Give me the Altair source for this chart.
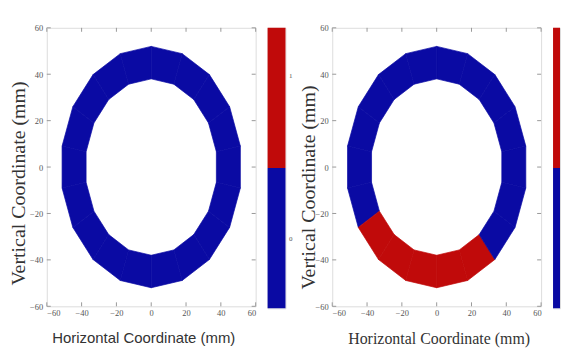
import math
import altair as alt
import pandas as pd

# ---- data -------------------------------------------------------------
seg_centers_deg = [0, 20, 40, 60, 80, 100, 120, 140, 160, 180,
                   200, 220, 240, 260, 280, 300, 320, 340]
seg_half_width_deg = 10
r_outer = 52
r_inner = 38
left_state = [0, 0, 0, 0, 0, 0, 0, 0, 0, 0, 0, 0, 0, 0, 0, 0, 0, 0]
right_state = [0, 0, 0, 0, 0, 0, 0, 0, 0, 0, 0, 1, 1, 1, 1, 1, 0, 0]
axis_ticks = [-60, -40, -20, 0, 20, 40, 60]
cbar_lo = [-0.5, 0.5]
cbar_hi = [0.5, 1.5]
cbar_state = [0, 1]
cbar_ticks = [0, 1]

BLUE = "#0a0aa3"
RED = "#c00a0a"
W, H = 210, 280
XT = "Horizontal Coordinate (mm)"
YT = "Vertical Coordinate (mm)"


def ring_table(state):
    rows = []
    for k, (c, s) in enumerate(zip(seg_centers_deg, state)):
        a0 = math.radians(c - seg_half_width_deg)
        a1 = math.radians(c + seg_half_width_deg)
        pts = [(r_outer, a0), (r_outer, a1), (r_inner, a1), (r_inner, a0), (r_outer, a0)]
        for j, (r, a) in enumerate(pts):
            rows.append({"seg": k, "ord": j, "x": r * math.cos(a),
                         "y": r * math.sin(a), "state": s})
    return pd.DataFrame(rows)


sx = alt.Scale(domain=[-60, 60], nice=False, zero=False)
sy = alt.Scale(domain=[-60, 60], nice=False, zero=False)
cscale = alt.Scale(domain=[0, 1], range=[BLUE, RED])


def panel(state, xtitle_font, xtitle_size, xtitle_x, ytitle_x, ytitle_y):
    df = ring_table(state)
    xax = alt.Axis(
        values=axis_ticks, domain=False, ticks=False,
        grid=False, labelFontSize=8.5, labelPadding=2, labelColor="#555",
        labelFont="Liberation Serif", titleFont=xtitle_font, titleFontSize=xtitle_size,
        titleFontWeight="normal", titleColor="#333", titleX=xtitle_x, titleY=24,
        titleBaseline="top")
    yax = alt.Axis(
        values=axis_ticks, domain=False, ticks=False,
        grid=False, labelFontSize=8.5, labelPadding=4, labelColor="#555",
        labelFont="Liberation Serif", titleFont="Liberation Serif", titleFontSize=20,
        titleFontWeight="normal", titleColor="#333", titleX=ytitle_x, titleY=ytitle_y,
        titleBaseline="bottom")
    ring = alt.Chart(df).mark_line(filled=True, strokeWidth=0.7, interpolate="linear").encode(
        x=alt.X("x:Q", scale=sx, axis=xax, title=XT),
        y=alt.Y("y:Q", scale=sy, axis=yax, title=YT),
        color=alt.Color("state:O", scale=cscale, legend=None),
        stroke=alt.Stroke("state:O", scale=cscale, legend=None),
        detail="seg:N",
        order="ord:Q",
    )
    tdf = pd.DataFrame({"v": axis_ticks})
    tick_col = "#999999"
    bottom = alt.Chart(tdf).mark_rule(color=tick_col).encode(
        x=alt.X("v:Q", scale=sx, axis=xax, title=XT), y=alt.value(H), y2=alt.value(H - 4))
    top = alt.Chart(tdf).mark_rule(color=tick_col).encode(
        x=alt.X("v:Q", scale=sx, axis=xax, title=XT), y=alt.value(0), y2=alt.value(4))
    left = alt.Chart(tdf).mark_rule(color=tick_col).encode(
        y=alt.Y("v:Q", scale=sy, axis=yax, title=YT), x=alt.value(0), x2=alt.value(4))
    right = alt.Chart(tdf).mark_rule(color=tick_col).encode(
        y=alt.Y("v:Q", scale=sy, axis=yax, title=YT), x=alt.value(W), x2=alt.value(W - 4))
    return alt.layer(ring, bottom, top, left, right).properties(width=W, height=H)


def colorbar(show_labels, width):
    df = pd.DataFrame({"lo": cbar_lo, "hi": cbar_hi, "state": cbar_state})
    sc = alt.Scale(domain=[-0.5, 1.5], nice=False, zero=False)
    if show_labels:
        ax = alt.Axis(orient="right", values=cbar_ticks, title=None, domain=False,
                      ticks=False, grid=False, labelFontSize=7, labelColor="#555",
                      labelFont="Liberation Serif", labelPadding=3,
                      labelOffset={"condition": {"test": "datum.value == 1", "value": -23},
                                   "value": 0})
        yenc = alt.Y("lo:Q", scale=sc, axis=ax)
    else:
        yenc = alt.Y("lo:Q", scale=sc, axis=None)
    return alt.Chart(df).mark_rect().encode(
        y=yenc,
        y2="hi:Q",
        x=alt.value(0), x2=alt.value(width),
        color=alt.Color("state:O", scale=cscale, legend=None),
    ).properties(width=width, height=282)


spacer = alt.Chart(pd.DataFrame({"a": [0]})).mark_point(opacity=0).encode(
    x=alt.value(10), y=alt.value(100)
).properties(width=23, height=280, view=alt.ViewBackground(stroke="transparent"))

p1 = panel(left_state, "Liberation Sans", 15, 97, -18, 156)
p2 = panel(right_state, "Liberation Serif", 16, 107, -14, 160)
c1 = colorbar(True, 18)
c2 = colorbar(False, 7)

chart = alt.hconcat(p1, c1, spacer, p2, c2, spacing=12, bounds="flush").properties(
    padding={"left": 0, "top": 14, "right": 0, "bottom": 0}
).configure_view(stroke="#888888", strokeWidth=1).configure(background="white")

chart.save("out.html", embed_options={"renderer": "svg", "actions": False})
